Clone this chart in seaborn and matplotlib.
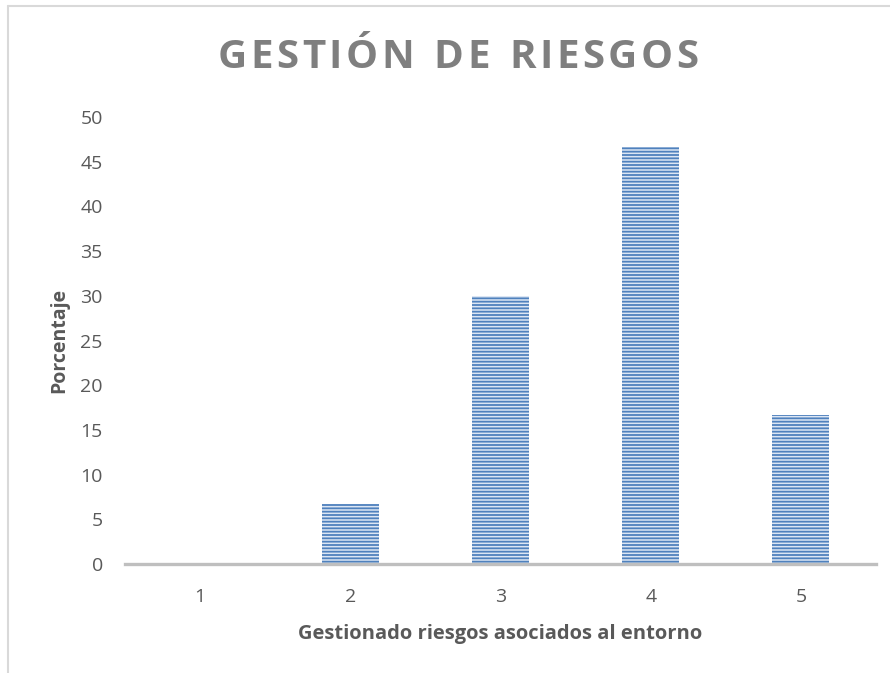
import matplotlib
matplotlib.use("Agg")
import matplotlib.pyplot as plt
from matplotlib.lines import Line2D
import seaborn as sns
import pandas as pd

categorias = ["1", "2", "3", "4", "5"]
porcentajes = [0.0, 6.67, 30.0, 46.67, 16.67]
ticks_y = [0, 5, 10, 15, 20, 25, 30, 35, 40, 45, 50]
titulo = "GESTIÓN DE RIESGOS"

sns.set_theme(style="white")
plt.rcParams["font.family"] = ["Open Sans", "DejaVu Sans"]
plt.rcParams["hatch.linewidth"] = 1.3
plt.rcParams["hatch.color"] = "#4f81bd"

df = pd.DataFrame({"categoria": categorias, "porcentaje": porcentajes})

fig = plt.figure(figsize=(8.9, 6.73), dpi=100)
ax = fig.add_axes([125 / 890, 109 / 673, 751 / 890, 447 / 673])

sns.barplot(data=df, x="categoria", y="porcentaje", ax=ax, width=0.38,
            color="#dce6f4", edgecolor="#4f81bd", linewidth=0, saturation=1)
for patch in ax.patches:
    patch.set_hatch("-----")
    patch.set_edgecolor("#4f81bd")

ax.set_ylim(0, 50)
ax.set_yticks(ticks_y)
ax.set_xlim(-0.5, len(categorias) - 0.5)

for side in ["top", "right", "left"]:
    ax.spines[side].set_visible(False)
ax.spines["bottom"].set_color("#bfbfbf")
ax.spines["bottom"].set_linewidth(2.4)

ax.tick_params(axis="both", length=0, labelsize=14, colors="#595959")
ax.tick_params(axis="y", pad=16)
ax.tick_params(axis="x", pad=17)

ax.set_xlabel("Gestionado riesgos asociados al entorno", fontsize=14.5,
              fontweight="bold", color="#595959", labelpad=13)
ax.set_ylabel("Porcentaje", fontsize=14, fontweight="bold",
              color="#595959", labelpad=8)

# title with letter spacing, drawn character by character
renderer = fig.canvas.get_renderer()
espacio = 3.4  # extra pixels between letters
props = dict(fontsize=29, fontweight="bold", color="#7f7f7f", va="center",
             ha="left")
anchos = []
for ch in titulo:
    t = fig.text(0, 0, ch if ch != " " else "n", **props)
    anchos.append(t.get_window_extent(renderer).width * (0.5 if ch == " " else 1.0))
    t.remove()
total = sum(anchos) + espacio * (len(titulo) - 1)
x = 458 - total / 2
y_title = 1 - 57 / 673
for ch, w in zip(titulo, anchos):
    if ch != " ":
        fig.text(x / 890, y_title, ch, **props)
    x += w + espacio

# chart area border
fig.add_artist(Line2D([8 / 890, 1.0], [1 - 5.5 / 673, 1 - 5.5 / 673],
                      color="#d9d9d9", linewidth=1.5, transform=fig.transFigure))
fig.add_artist(Line2D([8 / 890, 8 / 890], [0, 1 - 5.5 / 673],
                      color="#d9d9d9", linewidth=1.5, transform=fig.transFigure))

fig.savefig("out.png", dpi=100, facecolor="white")
